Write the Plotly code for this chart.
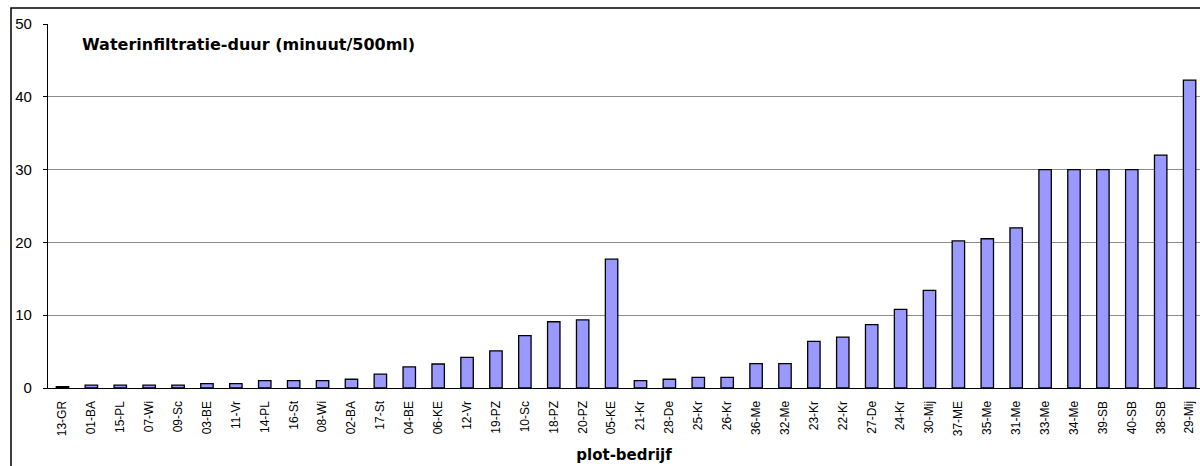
import plotly.graph_objects as go

categories = ["13-GR", "01-BA", "15-PL", "07-Wi", "09-Sc", "03-BE", "11-Vr", "14-PL", "16-St", "08-Wi",
              "02-BA", "17-St", "04-BE", "06-KE", "12-Vr", "19-PZ", "10-Sc", "18-PZ", "20-PZ", "05-KE",
              "21-Kr", "28-De", "25-Kr", "26-Kr", "36-Me", "32-Me", "23-Kr", "22-Kr", "27-De", "24-Kr",
              "30-Mij", "37-ME", "35-Me", "31-Me", "33-Me", "34-Me", "39-SB", "40-SB", "38-SB", "29-Mij"]
values = [0.2, 0.4, 0.4, 0.4, 0.4, 0.6, 0.6, 1.0, 1.0, 1.0,
          1.2, 1.9, 2.9, 3.3, 4.2, 5.1, 7.2, 9.1, 9.35, 17.7,
          1.0, 1.2, 1.45, 1.45, 3.35, 3.35, 6.4, 7.0, 8.7, 10.8,
          13.4, 20.2, 20.5, 22.0, 30.0, 30.0, 30.0, 30.0, 32.0, 42.3]
y_ticks = [0, 10, 20, 30, 40, 50]

fig = go.Figure()
fig.add_trace(go.Bar(
    x=categories, y=values, width=0.43,
    marker=dict(color="#9999FF", line=dict(color="#000000", width=1.3)),
))

font = "Liberation Sans, Arial, sans-serif"
wide = "DejaVu Sans, Verdana, sans-serif"
fig.update_layout(
    width=1200, height=466,
    margin=dict(l=48, r=0, t=24, b=78),
    paper_bgcolor="white", plot_bgcolor="white",
    showlegend=False,
    font=dict(family=font, color="black"),
    xaxis=dict(
        type="category", range=[-0.5, 39.36],
        tickangle=-90, tickfont=dict(size=12, family=font),
        showline=True, linecolor="black", linewidth=1.3,
        ticks="", showgrid=False, ticklabelstandoff=7,
        title=dict(text="<b>plot-bedrijf</b>", font=dict(size=15, family=wide), standoff=14),
    ),
    yaxis=dict(
        range=[0, 50], tickvals=y_ticks,
        tickfont=dict(size=15, family=font),
        showline=True, linecolor="black", linewidth=1.3,
        ticks="outside", ticklen=4, tickcolor="black",
        ticklabelstandoff=8,
        showgrid=True, gridcolor="#8c8c8c", gridwidth=1.2,
        zeroline=False,
    ),
    annotations=[dict(
        text="<b>Waterinfiltratie-duur (minuut/500ml)</b>",
        xref="paper", yref="paper", x=(80 - 48) / 1152, y=(388 - 44) / 364,
        xanchor="left", yanchor="middle", showarrow=False,
        font=dict(size=16, family=wide, color="black"),
    )],
    shapes=[dict(
        type="rect", xref="paper", yref="paper",
        x0=(11 - 48) / 1152, x1=(1215 - 48) / 1152,
        y0=(388 - 480) / 364, y1=(388 - 8) / 364,
        line=dict(color="black", width=1.5), fillcolor="rgba(0,0,0,0)", layer="below",
    )],
)

fig.write_html(
    "out.html",
    config={"displayModeBar": False},
    post_script="document.body.style.margin='0';document.body.style.overflow='hidden';",
)
